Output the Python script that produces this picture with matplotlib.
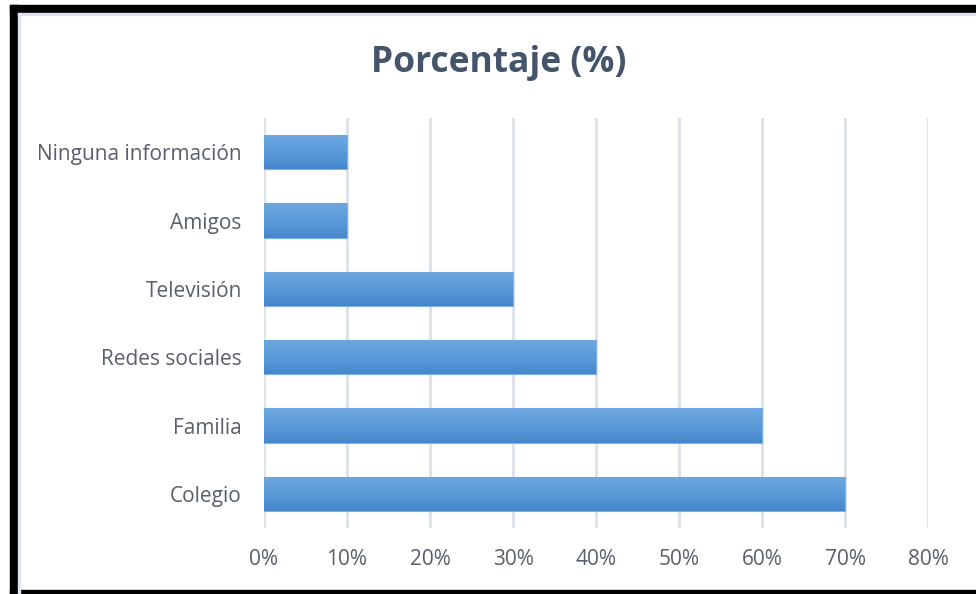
import numpy as np
import matplotlib.pyplot as plt
from matplotlib.patches import Rectangle
from matplotlib.colors import LinearSegmentedColormap

# Chart data
categories = ["Colegio", "Familia", "Redes sociales", "Televisión", "Amigos", "Ninguna información"]
values = [70, 60, 40, 30, 10, 10]
ticks = [0, 10, 20, 30, 40, 50, 60, 70, 80]
tick_labels = [f"{t}%" for t in ticks]

W, H = 976, 594
fig = plt.figure(figsize=(W / 100, H / 100), dpi=100)
fig.patch.set_facecolor("white")

ax = fig.add_axes([264 / W, 1 - 528 / H, (928 - 264) / W, (528 - 118) / H])

# Bars, then paint a vertical gradient clipped to each bar
bars = ax.barh(categories, values, height=0.5, color="#5b9bd5", edgecolor="#7fb2e3", linewidth=0.8, zorder=2)
grad_cmap = LinearSegmentedColormap.from_list("bar", ["#4687cd", "#5b9bd9", "#6ea7df"])
grad = np.linspace(0, 1, 64).reshape(-1, 1)
for b in bars:
    x0, y0 = b.get_x(), b.get_y()
    im = ax.imshow(grad, cmap=grad_cmap, aspect="auto", origin="lower",
                   extent=[x0, x0 + b.get_width(), y0, y0 + b.get_height()], zorder=2.5)
    im.set_clip_path(b)

ax.set_xlim(0, 80)
ax.set_ylim(-0.5, len(categories) - 0.5)
ax.set_xticks(ticks)
ax.set_xticklabels(tick_labels)

ax.grid(axis="x", color="#dde1e8", linewidth=2, zorder=0)
ax.set_axisbelow(True)
for s in ax.spines.values():
    s.set_visible(False)
ax.tick_params(axis="both", length=0, labelsize=15, labelcolor="#595f6b")
ax.tick_params(axis="y", pad=16)
ax.tick_params(axis="x", pad=15)
for lbl in ax.get_xticklabels() + ax.get_yticklabels():
    lbl.set_family("Open Sans")

fig.text(499 / W, 1 - 63 / H, "Porcentaje (%)", ha="center", va="center",
         fontsize=25.5, fontweight="bold", color="#44546a", family="Open Sans")

# Black frame around the chart (left, top, bottom)
fig.add_artist(Rectangle((10 / W, 0), 8 / W, 1 - 5 / H, transform=fig.transFigure, color="black"))
fig.add_artist(Rectangle((10 / W, 1 - 13 / H), 1, 8 / H, transform=fig.transFigure, color="black"))
fig.add_artist(Rectangle((10 / W, 0), 1, 4 / H, transform=fig.transFigure, color="black"))
fig.add_artist(Rectangle((18 / W, 1 - 15 / H), 1, 2 / H, transform=fig.transFigure, color="#dfe4ec"))
fig.add_artist(Rectangle((18 / W, 0), 2 / W, 1 - 13 / H, transform=fig.transFigure, color="#dfe4ec"))

fig.savefig("out.png", dpi=100)
